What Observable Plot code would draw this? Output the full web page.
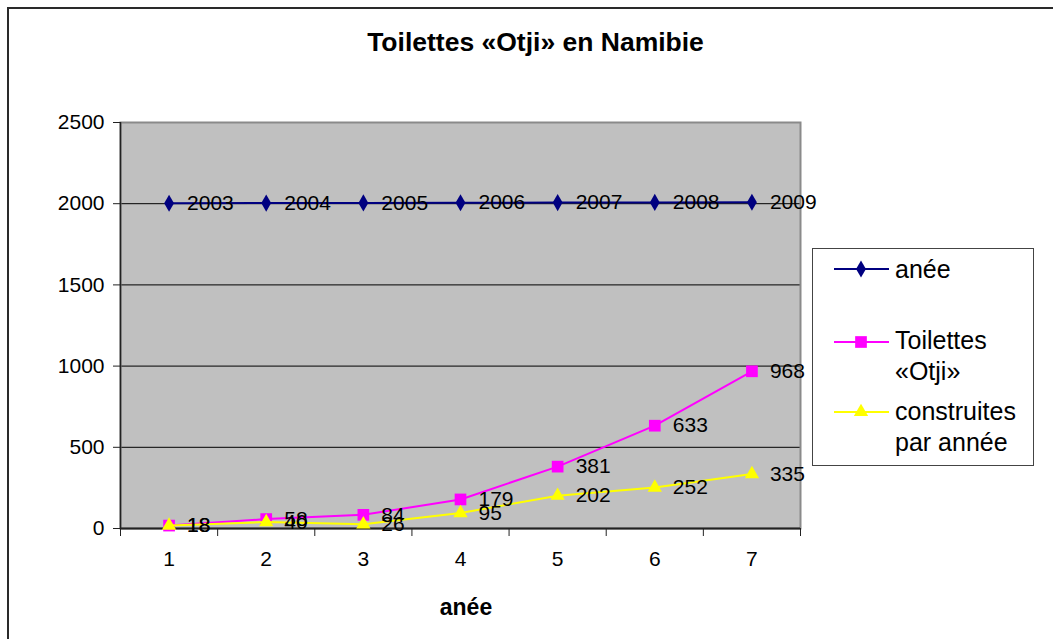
<!DOCTYPE html>
<html>
<head>
<meta charset="utf-8">
<script src="https://cdn.jsdelivr.net/npm/d3@7"></script>
<script src="https://cdn.jsdelivr.net/npm/@observablehq/plot@0.6"></script>
<style>
  html, body { margin: 0; padding: 0; background: #fff; }
  #wrap { position: relative; width: 1053px; height: 639px; overflow: hidden; font-family: "Liberation Sans", Arial, sans-serif; }
  #border { position: absolute; left: 7px; top: 7px; width: 1100px; height: 700px; border: 2px solid #2a2a2a; box-sizing: border-box; }
  #chart { position: absolute; left: 0; top: 0; }
  #title { position: absolute; left: 0; width: 1071px; top: 26px; line-height: 32px; text-align: center; font-weight: bold; font-size: 26.5px; color: #000; }
  #xtitle { position: absolute; left: 366px; width: 200px; top: 593px; line-height: 28px; text-align: center; font-weight: bold; font-size: 23px; color: #000; }
  #legend { position: absolute; left: 812px; top: 248px; width: 222px; height: 218px; border: 1px solid #444; box-sizing: border-box; background: #fff; }
  .item { position: absolute; left: 0; width: 222px; }
  .item svg { position: absolute; left: 20px; }
  .item .lab { position: absolute; left: 82px; width: 135px; font-size: 25px; line-height: 31px; color: #000; }
</style>
</head>
<body>
<div id="wrap">
  <div id="border"></div>
  <div id="chart"></div>
  <div id="title">Toilettes «Otji» en Namibie</div>
  <div id="xtitle">anée</div>
  <div id="legend"></div>
</div>
<script>
// ---- data ----
const categories = [1, 2, 3, 4, 5, 6, 7];
const anee = [2003, 2004, 2005, 2006, 2007, 2008, 2009];
const toilettes = [18, 58, 84, 179, 381, 633, 968];
const construites = [18, 40, 26, 95, 202, 252, 335];
const yTicks = [0, 500, 1000, 1500, 2000, 2500];
const seriesNames = ["anée", "Toilettes «Otji»", "construites par année"];
const seriesColors = ["#000080", "#FF00FF", "#FFFF00"];
const seriesSymbols = ["diamond", "square", "triangle"];
const seriesR = [5.2, 6.6, 5.3];

const table = categories.map((c, i) => ({ x: c, anee: anee[i], toil: toilettes[i], cons: construites[i] }));
const keys = ["anee", "toil", "cons"];
const boundaries = categories.map(c => c - 0.5).concat([categories[categories.length - 1] + 0.5]);

const marks = [
  Plot.frame({ fill: "#c0c0c0" }),
  Plot.gridY(yTicks.slice(1, -1), { stroke: "#000", strokeOpacity: 1, strokeWidth: 1 }),
  Plot.frame({ stroke: "#8a8a8a", strokeWidth: 2 }),
  Plot.ruleY([0], { stroke: "#222", strokeWidth: 2 }),
  Plot.ruleX([boundaries[0]], { stroke: "#222", strokeWidth: 1.5 }),
  Plot.axisY({ ticks: yTicks, tickSize: 7, tickPadding: 9, label: null, stroke: "#222", tickFormat: d => String(d) }),
  Plot.axisX({ ticks: boundaries, tickSize: 8, tickFormat: () => "", label: null, stroke: "#222" }),
  Plot.axisX({ ticks: categories, tickSize: 0, tickPadding: 23, label: null, tickFormat: d => String(d) })
];
keys.forEach((k, i) => {
  marks.push(Plot.line(table, { x: "x", y: k, stroke: seriesColors[i], strokeWidth: 2 }));
  marks.push(Plot.dot(table, { x: "x", y: k, symbol: seriesSymbols[i], r: seriesR[i], fill: seriesColors[i], stroke: "none" }));
});
keys.forEach((k) => {
  marks.push(Plot.text(table, { x: "x", y: k, text: d => String(d[k]), dx: 18, textAnchor: "start", lineAnchor: "middle", fill: "#000" }));
});

const chart = Plot.plot({
  width: 1053,
  height: 639,
  marginLeft: 120,
  marginRight: 253,
  marginTop: 122,
  marginBottom: 111,
  x: { type: "linear", domain: [boundaries[0], boundaries[boundaries.length - 1]] },
  y: { domain: [yTicks[0], yTicks[yTicks.length - 1]] },
  style: { fontSize: "21px", fontFamily: "'Liberation Sans', Arial, sans-serif", background: "transparent", color: "#000" },
  marks
});
document.getElementById("chart").appendChild(chart);

// ---- legend ----
const legend = document.getElementById("legend");
const itemTops = [5, 76, 147];
const markerY = [20, 93, 163];
seriesNames.forEach((name, i) => {
  const item = document.createElement("div");
  item.className = "item";
  item.style.top = "0px";
  const svg = d3.create("svg").attr("width", 58).attr("height", 30).style("top", (markerY[i] - 15) + "px");
  svg.append("line").attr("x1", 1).attr("x2", 56).attr("y1", 15).attr("y2", 15).attr("stroke", seriesColors[i]).attr("stroke-width", 2);
  const symMap = { diamond: d3.symbolDiamond, square: d3.symbolSquare, triangle: d3.symbolTriangle };
  svg.append("path").attr("transform", "translate(28,15)")
    .attr("d", d3.symbol(symMap[seriesSymbols[i]], Math.PI * seriesR[i] * seriesR[i])())
    .attr("fill", seriesColors[i]);
  item.appendChild(svg.node());
  const lab = document.createElement("div");
  lab.className = "lab";
  lab.style.top = itemTops[i] + "px";
  lab.textContent = name;
  item.appendChild(lab);
  legend.appendChild(item);
});
</script>
</body>
</html>
